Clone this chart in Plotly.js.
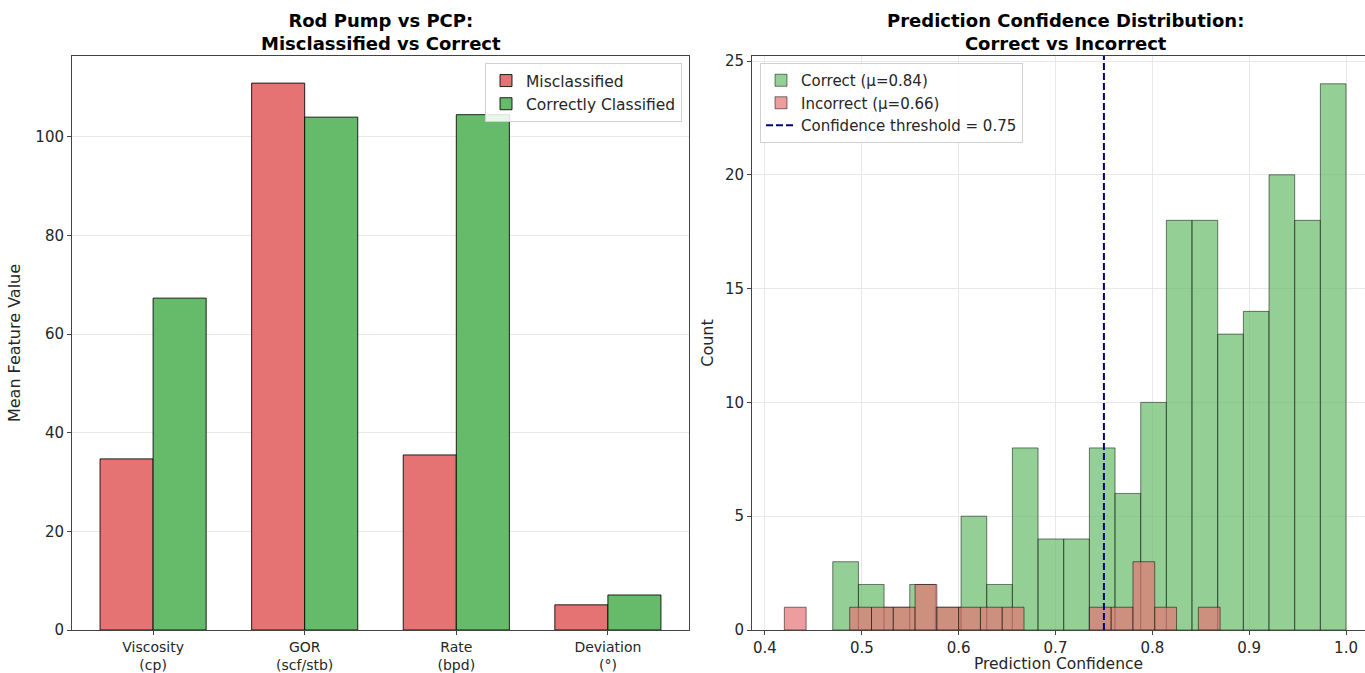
<!DOCTYPE html>
<html>
<head>
<meta charset="utf-8">
<script src="https://cdn.plot.ly/plotly-3.0.1.min.js"></script>
<style>
html,body{margin:0;padding:0;background:#fff;}
#chart{width:1365px;height:673px;}
</style>
</head>
<body>
<div id="chart"></div>
<script>
// ---- Left chart data ----
const features = ["Viscosity<br>(cp)", "GOR<br>(scf/stb)", "Rate<br>(bpd)", "Deviation<br>(°)"];
const misclassifiedMeans = [34.7, 110.9, 35.5, 5.1];
const correctMeans = [67.3, 104.0, 104.5, 7.1];

// ---- Right chart data (histogram bins) ----
const correctBinStart = 0.470;
const correctBinWidth = 0.0265;
const correctCounts = [3, 2, 1, 2, 1, 5, 2, 8, 4, 4, 8, 6, 10, 18, 18, 13, 14, 20, 18, 24];
const incorrectBinStart = 0.420;
const incorrectBinWidth = 0.0225;
const incorrectCounts = [1, 0, 0, 1, 1, 1, 2, 1, 1, 1, 1, 0, 0, 0, 1, 1, 3, 1, 0, 1];
const correctMean = 0.84;
const incorrectMean = 0.66;
const threshold = 0.75;

const font = "DejaVu Sans, Liberation Sans, sans-serif";
const red = "#e57373";
const green = "#66bb6a";
const groupBarWidth = 0.35;

function centers(start, width, n) {
  const c = [];
  for (let i = 0; i < n; i++) c.push(start + width * (i + 0.5));
  return c;
}

const traces = [
  {
    type: "bar", x: features, y: misclassifiedMeans, name: "Misclassified",
    width: groupBarWidth, offset: -groupBarWidth,
    marker: {color: red, line: {color: "rgba(0,0,0,0.85)", width: 1}},
    xaxis: "x", yaxis: "y", legend: "legend"
  },
  {
    type: "bar", x: features, y: correctMeans, name: "Correctly Classified",
    width: groupBarWidth, offset: 0,
    marker: {color: green, line: {color: "rgba(0,0,0,0.85)", width: 1}},
    xaxis: "x", yaxis: "y", legend: "legend"
  },
  {
    type: "bar", x: centers(correctBinStart, correctBinWidth, correctCounts.length),
    y: correctCounts.map(v => v === 0 ? null : v), width: correctBinWidth,
    name: "Correct (μ=" + correctMean.toFixed(2) + ")",
    marker: {color: "rgba(102,187,106,0.7)", line: {color: "rgba(0,0,0,0.5)", width: 1}},
    xaxis: "x2", yaxis: "y2", legend: "legend2"
  },
  {
    type: "bar", x: centers(incorrectBinStart, incorrectBinWidth, incorrectCounts.length),
    y: incorrectCounts.map(v => v === 0 ? null : v), width: incorrectBinWidth,
    name: "Incorrect (μ=" + incorrectMean.toFixed(2) + ")",
    marker: {color: "rgba(229,115,115,0.7)", line: {color: "rgba(0,0,0,0.5)", width: 1}},
    xaxis: "x2", yaxis: "y2", legend: "legend2"
  }
];

const W = 1365, H = 673;
const axisLine = {showline: true, linecolor: "#444", linewidth: 1, mirror: true};
const tickStyle = {ticks: "outside", ticklen: 4, tickcolor: "#444", tickwidth: 1,
  tickfont: {family: font, size: 15, color: "#262626"}};

const layout = {
  width: W, height: H,
  margin: {l: 0, r: 0, t: 0, b: 0},
  paper_bgcolor: "#fff", plot_bgcolor: "#fff",
  font: {family: font, color: "#262626"},
  barmode: "overlay",
  xaxis: Object.assign({}, axisLine, tickStyle, {
    domain: [72 / W, 689 / W], anchor: "y", type: "category",
    range: [-0.535, 3.535], showgrid: false,
    tickfont: {family: font, size: 14, color: "#262626"}, ticklabelstandoff: 0
  }),
  yaxis: Object.assign({
    domain: [(H - 630) / H, (H - 56) / H], anchor: "x",
    range: [0, 116.4], dtick: 20, showgrid: true, gridcolor: "#e8e8e8", zeroline: false,
    title: {text: "Mean Feature Value", font: {family: font, size: 16, color: "#262626"}, standoff: 10}
  }, axisLine, tickStyle),
  xaxis2: Object.assign({}, axisLine, tickStyle, {
    domain: [752 / W, 1], anchor: "y2",
    range: [0.3866, 1.0196], dtick: 0.1, tickformat: ".1f",
    showgrid: true, gridcolor: "#e8e8e8", zeroline: false, ticklabelstandoff: 0,
    title: {text: "Prediction Confidence", font: {family: font, size: 15.5, color: "#262626"}, standoff: 9}
  }),
  yaxis2: Object.assign({
    domain: [(H - 630) / H, (H - 56) / H], anchor: "x2",
    range: [0, 25.22], dtick: 5, showgrid: true, gridcolor: "#e8e8e8", zeroline: false,
    title: {text: "Count", font: {family: font, size: 16, color: "#262626"}, standoff: 7}
  }, axisLine, tickStyle),
  legend: {
    x: 682 / W, xanchor: "right", y: (H - 63) / H, yanchor: "top",
    bgcolor: "rgba(255,255,255,0.85)", bordercolor: "#d0d0d0", borderwidth: 1,
    font: {family: font, size: 15.5, color: "#262626"}, tracegroupgap: 2
  },
  legend2: {
    x: 760 / W, xanchor: "left", y: (H - 63) / H, yanchor: "top",
    bgcolor: "rgba(255,255,255,0.85)", bordercolor: "#d0d0d0", borderwidth: 1,
    font: {family: font, size: 15, color: "#262626"}, tracegroupgap: 2
  },
  shapes: [{
    type: "line", xref: "x2", yref: "y2 domain", x0: threshold, x1: threshold, y0: 0, y1: 1,
    line: {color: "#000080", width: 2, dash: "7px,3px"},
    showlegend: true, legend: "legend2",
    name: "Confidence threshold = " + threshold.toFixed(2)
  }],
  annotations: [
    {text: "<b>Rod Pump vs PCP:<br>Misclassified vs Correct</b>", xref: "paper", yref: "paper",
     x: (72 + 689) / 2 / W, y: (H - 8) / H, xanchor: "center", yanchor: "top", showarrow: false,
     font: {family: font, size: 18, color: "#000"}},
    {text: "<b>Prediction Confidence Distribution:<br>Correct vs Incorrect</b>", xref: "paper", yref: "paper",
     x: (752 + 1378) / 2 / W, y: (H - 8) / H, xanchor: "center", yanchor: "top", showarrow: false,
     font: {family: font, size: 18, color: "#000"}}
  ]
};

Plotly.newPlot("chart", traces, layout, {displayModeBar: false, staticPlot: true});
</script>
</body>
</html>
